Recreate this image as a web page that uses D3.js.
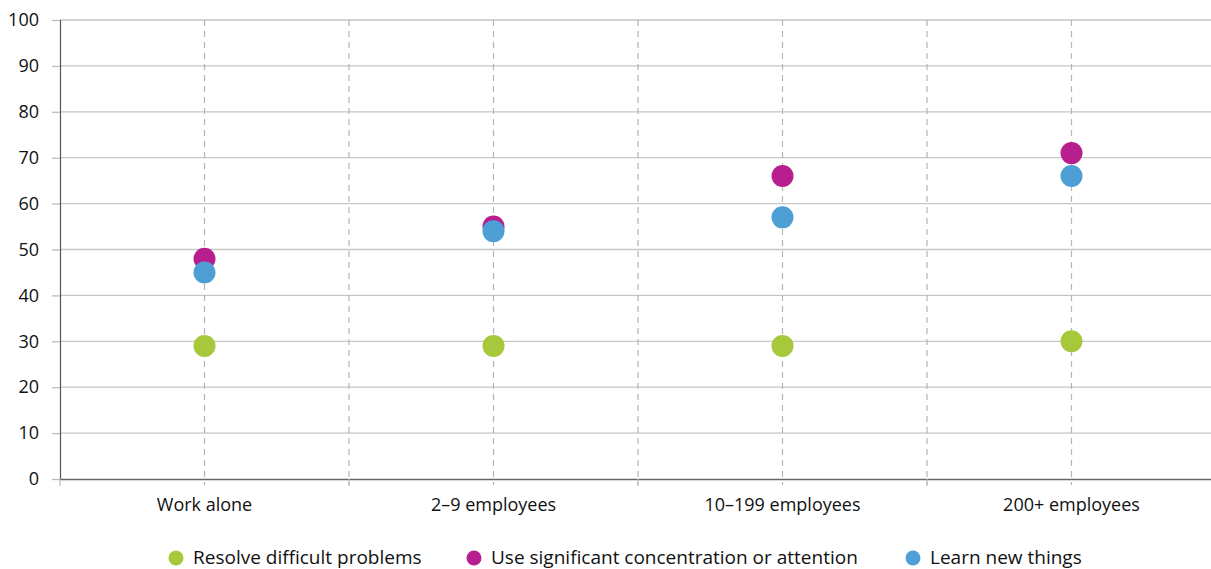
<!DOCTYPE html>
<html><head><meta charset="utf-8">
<script src="https://cdn.jsdelivr.net/npm/d3@7"></script>
<style>body{margin:0;background:#fff;} svg{display:block;font-family:"Open Sans",sans-serif;}</style>
</head><body><svg id="c" width="1211" height="569"></svg>
<script>
const categories = ["Work alone","2–9 employees","10–199 employees","200+ employees"];
const seriesNames = ["Resolve difficult problems","Use significant concentration or attention","Learn new things"];
const seriesColors = ["#a6c83a","#b61f8d","#4f9fd7"];
const resolveVals = [29,29,29,30];
const concentrationVals = [48,55,66,71];
const learnVals = [45,54,57,66];
const yTicks = [0,10,20,30,40,50,60,70,80,90,100];

const series = [resolveVals, concentrationVals, learnVals];
const svg = d3.select("#c");
const m = {l:60, t:20, r:-5, b:90};
const W = 1211, H = 569;
const x = d3.scaleBand().domain(categories).range([m.l, W - m.r]);
const y = d3.scaleLinear().domain([0,100]).range([479, 20]);

// horizontal grid
svg.append("g").selectAll("line").data(yTicks.filter(d=>d>0)).join("line")
  .attr("x1", m.l).attr("x2", W).attr("y1", d=>y(d)).attr("y2", d=>y(d))
  .attr("stroke","#c6c6c6").attr("stroke-width",1.3);

// vertical dashed lines at centers and boundaries
const centers = categories.map(c=>x(c)+x.bandwidth()/2);
const bounds = categories.slice(1).map(c=>x(c));
svg.append("g").selectAll("line").data(centers.concat(bounds)).join("line")
  .attr("x1", d=>d).attr("x2", d=>d).attr("y1", y(100)).attr("y2", y(0)+6)
  .attr("stroke","#b5b5b5").attr("stroke-width",1.2).attr("stroke-dasharray","6,5");

// y axis
const yAxis = svg.append("g").attr("transform",`translate(${m.l},0)`)
  .call(d3.axisLeft(y).tickValues(yTicks).tickSize(8).tickPadding(13))
  .attr("font-family", null).attr("font-size", null);
yAxis.select(".domain").attr("stroke","#555").attr("stroke-width",1.2);
yAxis.selectAll(".tick line").attr("stroke","#bbb").attr("stroke-width",1.3);
yAxis.selectAll("text").attr("font-size",18).attr("fill","#111");

// x axis
const xAxis = svg.append("g").attr("transform",`translate(0,${y(0)})`)
  .call(d3.axisBottom(x).tickSize(0).tickPadding(19))
  .attr("font-family", null).attr("font-size", null);
xAxis.select(".domain").attr("stroke","#666").attr("stroke-width",1.4);
xAxis.selectAll("text").attr("font-size",18).attr("fill","#111");
svg.append("g").selectAll("line").data([m.l].concat(bounds)).join("line")
  .attr("x1", d=>d).attr("x2", d=>d).attr("y1", y(0)).attr("y2", y(0)+7)
  .attr("stroke","#bbb").attr("stroke-width",1.2);

// points
series.forEach((vals,i)=>{
  svg.append("g").selectAll("circle").data(vals).join("circle")
    .attr("cx",(d,j)=>centers[j]).attr("cy",d=>y(d)).attr("r",11)
    .attr("fill",seriesColors[i]);
});

// legend
const legX = [176, 474, 913];
const lg = svg.append("g");
seriesNames.forEach((n,i)=>{
  lg.append("circle").attr("cx",legX[i]).attr("cy",558).attr("r",7.5).attr("fill",seriesColors[i]);
  lg.append("text").attr("x",legX[i]+17).attr("y",564).attr("font-size",19).attr("fill","#111").text(n);
});
</script></body></html>
